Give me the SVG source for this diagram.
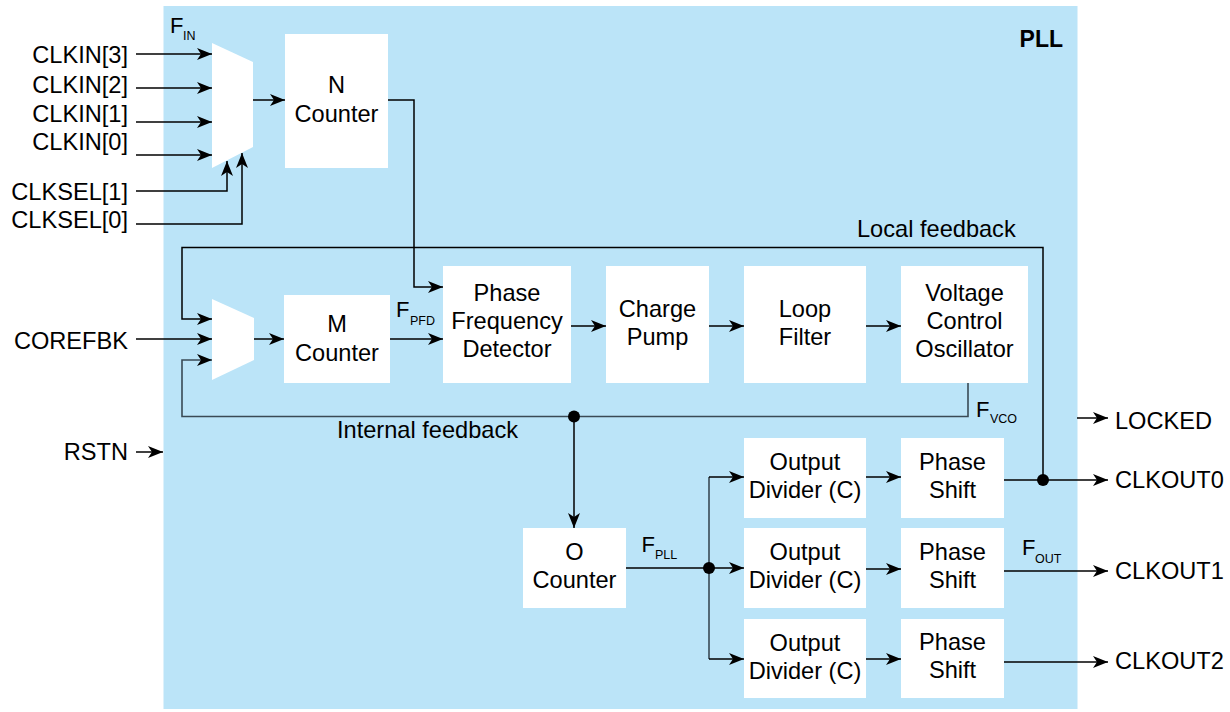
<svg xmlns="http://www.w3.org/2000/svg" width="1230" height="712" viewBox="0 0 1230 712">
<style>
  text { font-family: "Liberation Sans", Arial, sans-serif; fill: #000; }
  .t { font-size: 23.6px; }
  .c { text-anchor: middle; }
  .e { text-anchor: end; }
  .f { font-size: 22px; }
  .s { font-size: 12.5px; }
  .box { fill: #fff; }
  .ln { fill: none; stroke: #000; stroke-width: 1.5; }
  .gl { fill: none; stroke: #3a4a55; stroke-width: 1.6; }
  .arr { marker-end: url(#ah); }
</style>
<defs>
  <marker id="ah" viewBox="0 0 15 12" refX="15" refY="6" markerWidth="15" markerHeight="12" markerUnits="userSpaceOnUse" orient="auto">
    <path d="M0,0 L15,6 L0,12 L4,6 Z" fill="#000"/>
  </marker>
</defs>
<rect id="pll" x="163.5" y="6" width="914" height="703" fill="#BBE4F8"/>
<text x="1063" y="47" class="e" font-size="23" font-weight="bold">PLL</text>

<g id="mux1"><polygon points="212,43 253,62 253,147 212,168" fill="#fff"/></g>
<g id="mux2"><polygon points="212,299 254,318 254,360 212,380" fill="#fff"/></g>

<g id="n-counter"><rect class="box" x="285" y="34" width="103" height="134"/>
  <text class="t c" x="336.5" y="93">N</text><text class="t c" x="336.5" y="121.5">Counter</text></g>
<g id="m-counter"><rect class="box" x="284" y="295" width="106" height="88"/>
  <text class="t c" x="337" y="332">M</text><text class="t c" x="337" y="361">Counter</text></g>
<g id="pfd"><rect class="box" x="443" y="266" width="128" height="117"/>
  <text class="t c" x="507" y="301">Phase</text><text class="t c" x="507" y="329">Frequency</text><text class="t c" x="507" y="357">Detector</text></g>
<g id="charge-pump"><rect class="box" x="606" y="266" width="103" height="117"/>
  <text class="t c" x="657.5" y="317">Charge</text><text class="t c" x="657.5" y="345">Pump</text></g>
<g id="loop-filter"><rect class="box" x="744" y="266" width="122" height="117"/>
  <text class="t c" x="805" y="317">Loop</text><text class="t c" x="805" y="345">Filter</text></g>
<g id="vco"><rect class="box" x="901" y="266" width="127" height="117"/>
  <text class="t c" x="964.5" y="301">Voltage</text><text class="t c" x="964.5" y="329">Control</text><text class="t c" x="964.5" y="357">Oscillator</text></g>
<g id="o-counter"><rect class="box" x="523" y="528" width="103" height="80"/>
  <text class="t c" x="574.5" y="560">O</text><text class="t c" x="574.5" y="588">Counter</text></g>
<g id="divider0"><rect class="box" x="744" y="438" width="122" height="80"/>
  <text class="t c" x="805" y="470">Output</text><text class="t c" x="805" y="498">Divider (C)</text></g>
<g id="divider1"><rect class="box" x="744" y="528" width="122" height="80"/>
  <text class="t c" x="805" y="560">Output</text><text class="t c" x="805" y="588">Divider (C)</text></g>
<g id="divider2"><rect class="box" x="744" y="619" width="122" height="79"/>
  <text class="t c" x="805" y="651">Output</text><text class="t c" x="805" y="679">Divider (C)</text></g>
<g id="shift0"><rect class="box" x="901" y="438" width="103" height="80"/>
  <text class="t c" x="952.5" y="470">Phase</text><text class="t c" x="952.5" y="498">Shift</text></g>
<g id="shift1"><rect class="box" x="901" y="528" width="103" height="80"/>
  <text class="t c" x="952.5" y="560">Phase</text><text class="t c" x="952.5" y="588">Shift</text></g>
<g id="shift2"><rect class="box" x="901" y="619" width="103" height="79"/>
  <text class="t c" x="952.5" y="650">Phase</text><text class="t c" x="952.5" y="678">Shift</text></g>

<g id="connectors">
  <path class="ln arr" d="M136,54 H212"/>
  <path class="ln arr" d="M136,88 H212"/>
  <path class="ln arr" d="M136,122 H212"/>
  <path class="ln arr" d="M136,155 H212"/>
  <path class="ln arr" d="M136,191 H227 V161"/>
  <path class="ln arr" d="M136,224 H242 V153"/>
  <path class="ln arr" d="M253,100 H285"/>
  <path class="ln arr" d="M388,100 H414 V287 H443"/>
  <path class="ln arr" d="M136,339 H212"/>
  <path class="ln arr" d="M254,339 H284"/>
  <path class="ln arr" d="M390,339 H443"/>
  <path class="ln arr" d="M571,326 H606"/>
  <path class="ln arr" d="M709,326 H744"/>
  <path class="ln arr" d="M866,326 H901"/>
  <path class="gl arr" d="M968,383 V416.5 H182 V360 H212"/>
  <path class="ln arr" d="M574,416.5 V528"/>
  <path class="ln arr" d="M1043,480 V247.5 H182 V319 H212"/>
  <path class="ln" d="M626,568 H709"/>
  <path class="gl" d="M709,477 V659"/>
  <path class="ln arr" d="M709,477 H744"/>
  <path class="ln arr" d="M709,568 H744"/>
  <path class="ln arr" d="M709,659 H744"/>
  <path class="ln arr" d="M866,477 H901"/>
  <path class="ln arr" d="M866,569 H901"/>
  <path class="ln arr" d="M866,659 H901"/>
  <path class="ln arr" d="M1004,480 H1108"/>
  <path class="ln arr" d="M1004,571 H1108"/>
  <path class="ln arr" d="M1004,662 H1108"/>
  <path class="ln arr" d="M1077,418 H1108"/>
  <path class="ln arr" d="M136,452 H163"/>
  <circle cx="574" cy="416.5" r="6"/>
  <circle cx="709" cy="568" r="6"/>
  <circle cx="1043" cy="480" r="6"/>
</g>

<g id="labels">
  <text class="t e" x="128" y="63">CLKIN[3]</text>
  <text class="t e" x="128" y="92.5">CLKIN[2]</text>
  <text class="t e" x="128" y="122">CLKIN[1]</text>
  <text class="t e" x="128" y="150">CLKIN[0]</text>
  <text class="t e" x="128" y="200">CLKSEL[1]</text>
  <text class="t e" x="128" y="228">CLKSEL[0]</text>
  <text class="t e" x="128" y="349">COREFBK</text>
  <text class="t e" x="128" y="460">RSTN</text>
  <text class="t" x="1115" y="429">LOCKED</text>
  <text class="t" x="1115" y="488">CLKOUT0</text>
  <text class="t" x="1115" y="579">CLKOUT1</text>
  <text class="t" x="1115" y="669">CLKOUT2</text>
  <text class="t" x="857" y="237">Local feedback</text>
  <text class="t" x="337" y="438">Internal feedback</text>
  <text class="f" x="170" y="33">F</text><text class="s" x="183" y="40">IN</text>
  <text class="f" x="396" y="317">F</text><text class="s" x="410" y="325">PFD</text>
  <text class="f" x="976" y="416.5">F</text><text class="s" x="990" y="423">VCO</text>
  <text class="f" x="641.5" y="552">F</text><text class="s" x="655" y="559">PLL</text>
  <text class="f" x="1022" y="555">F</text><text class="s" x="1035" y="563">OUT</text>
</g>
</svg>
